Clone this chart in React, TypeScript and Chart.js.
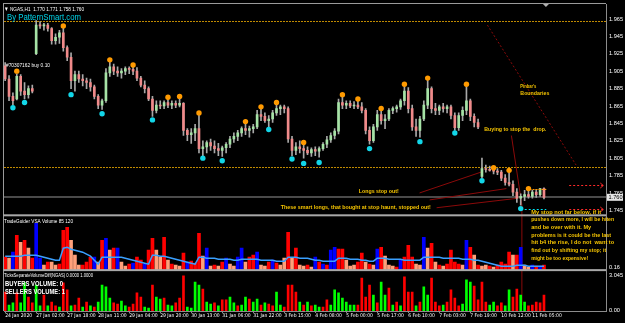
import React, { useEffect, useRef } from 'react';
import { Chart, registerables } from 'chart.js';

Chart.register(...registerables);

const FONT = "'Liberation Sans', Arial, sans-serif";
const NARROW = "'Liberation Sans Narrow', 'DejaVu Sans Condensed', 'Liberation Sans', Arial, sans-serif";

// ---------------- data ----------------
const opens = [
  1.911, 1.896, 1.876, 1.873, 1.899, 1.882, 1.878, 1.885, 1.925, 1.958,
  1.957, 1.958, 1.954, 1.940, 1.944, 1.949, 1.932, 1.921, 1.894, 1.901,
  1.896, 1.894, 1.892, 1.887, 1.876, 1.866, 1.871, 1.903, 1.910, 1.905,
  1.903, 1.905, 1.908, 1.907, 1.905, 1.897, 1.889, 1.885, 1.873, 1.860,
  1.866, 1.865, 1.869, 1.866, 1.868, 1.866, 1.868, 1.837, 1.832, 1.834,
  1.839, 1.816, 1.818, 1.823, 1.819, 1.816, 1.814, 1.817, 1.821, 1.827,
  1.830, 1.834, 1.839, 1.837, 1.839, 1.841, 1.855, 1.853, 1.848, 1.850,
  1.857, 1.862, 1.864, 1.862, 1.827, 1.814, 1.818, 1.816, 1.814, 1.811,
  1.815, 1.813, 1.816, 1.821, 1.826, 1.831, 1.836, 1.869, 1.866, 1.868,
  1.865, 1.866, 1.864, 1.860, 1.837, 1.825, 1.841, 1.855, 1.848, 1.850,
  1.860, 1.862, 1.864, 1.871, 1.882, 1.862, 1.841, 1.837, 1.850, 1.866,
  1.885, 1.862, 1.860, 1.864, 1.862, 1.864, 1.854, 1.840, 1.854, 1.860,
  1.871, 1.853, 1.846, 1.784, 1.793, 1.792, 1.791, 1.790, 1.789, 1.782,
  1.777, 1.775, 1.766, 1.759, 1.761, 1.763, 1.761, 1.766, 1.763, 1.770,
];
const highs = [
  1.915, 1.900, 1.880, 1.902, 1.901, 1.892, 1.888, 1.889, 1.963, 1.962,
  1.960, 1.960, 1.955, 1.948, 1.952, 1.956, 1.934, 1.926, 1.905, 1.905,
  1.901, 1.897, 1.896, 1.889, 1.878, 1.873, 1.908, 1.917, 1.913, 1.910,
  1.908, 1.910, 1.910, 1.911, 1.909, 1.899, 1.894, 1.887, 1.876, 1.871,
  1.871, 1.871, 1.873, 1.871, 1.871, 1.874, 1.869, 1.839, 1.839, 1.844,
  1.855, 1.825, 1.825, 1.827, 1.825, 1.822, 1.819, 1.823, 1.830, 1.834,
  1.837, 1.841, 1.847, 1.842, 1.844, 1.860, 1.863, 1.857, 1.854, 1.860,
  1.868, 1.866, 1.866, 1.864, 1.830, 1.823, 1.825, 1.822, 1.818, 1.817,
  1.818, 1.818, 1.823, 1.830, 1.834, 1.839, 1.873, 1.877, 1.871, 1.871,
  1.870, 1.872, 1.869, 1.862, 1.841, 1.844, 1.860, 1.861, 1.855, 1.862,
  1.864, 1.866, 1.873, 1.888, 1.886, 1.866, 1.850, 1.853, 1.871, 1.895,
  1.887, 1.868, 1.866, 1.868, 1.866, 1.866, 1.857, 1.857, 1.864, 1.888,
  1.873, 1.856, 1.850, 1.805, 1.797, 1.796, 1.793, 1.793, 1.791, 1.786,
  1.789, 1.779, 1.770, 1.764, 1.768, 1.770, 1.768, 1.769, 1.770, 1.771,
];
const lows = [
  1.894, 1.871, 1.866, 1.872, 1.877, 1.873, 1.874, 1.880, 1.924, 1.954,
  1.952, 1.951, 1.936, 1.936, 1.937, 1.928, 1.917, 1.885, 1.882, 1.892,
  1.888, 1.885, 1.882, 1.873, 1.862, 1.861, 1.869, 1.899, 1.901, 1.899,
  1.897, 1.901, 1.902, 1.901, 1.894, 1.887, 1.880, 1.871, 1.853, 1.857,
  1.862, 1.862, 1.863, 1.862, 1.863, 1.864, 1.831, 1.825, 1.822, 1.825,
  1.811, 1.808, 1.811, 1.814, 1.811, 1.808, 1.807, 1.811, 1.817, 1.823,
  1.825, 1.830, 1.832, 1.829, 1.834, 1.839, 1.848, 1.846, 1.841, 1.846,
  1.854, 1.855, 1.857, 1.823, 1.808, 1.809, 1.811, 1.805, 1.809, 1.807,
  1.808, 1.806, 1.814, 1.817, 1.823, 1.827, 1.833, 1.862, 1.862, 1.863,
  1.862, 1.862, 1.857, 1.833, 1.821, 1.823, 1.837, 1.844, 1.839, 1.848,
  1.856, 1.858, 1.861, 1.866, 1.857, 1.837, 1.830, 1.829, 1.848, 1.862,
  1.857, 1.855, 1.855, 1.858, 1.857, 1.850, 1.837, 1.837, 1.848, 1.855,
  1.848, 1.841, 1.839, 1.782, 1.789, 1.790, 1.787, 1.786, 1.779, 1.774,
  1.773, 1.762, 1.754, 1.751, 1.756, 1.759, 1.759, 1.760, 1.761, 1.758,
];
const closes = [
  1.896, 1.876, 1.871, 1.899, 1.882, 1.878, 1.885, 1.882, 1.958, 1.957,
  1.958, 1.954, 1.940, 1.944, 1.949, 1.932, 1.921, 1.894, 1.901, 1.896,
  1.894, 1.892, 1.887, 1.876, 1.866, 1.871, 1.903, 1.910, 1.905, 1.903,
  1.905, 1.908, 1.907, 1.905, 1.897, 1.889, 1.885, 1.873, 1.860, 1.866,
  1.865, 1.869, 1.866, 1.868, 1.866, 1.868, 1.837, 1.832, 1.834, 1.839,
  1.816, 1.818, 1.823, 1.819, 1.816, 1.814, 1.817, 1.821, 1.827, 1.830,
  1.834, 1.839, 1.837, 1.839, 1.841, 1.855, 1.853, 1.848, 1.850, 1.857,
  1.862, 1.864, 1.862, 1.827, 1.814, 1.818, 1.816, 1.814, 1.811, 1.815,
  1.813, 1.816, 1.821, 1.826, 1.831, 1.836, 1.869, 1.866, 1.868, 1.865,
  1.866, 1.864, 1.860, 1.837, 1.825, 1.841, 1.855, 1.848, 1.850, 1.860,
  1.862, 1.864, 1.871, 1.882, 1.862, 1.841, 1.837, 1.850, 1.866, 1.885,
  1.862, 1.860, 1.864, 1.862, 1.864, 1.854, 1.840, 1.854, 1.860, 1.871,
  1.853, 1.846, 1.841, 1.793, 1.792, 1.791, 1.790, 1.789, 1.782, 1.777,
  1.775, 1.766, 1.759, 1.761, 1.763, 1.761, 1.766, 1.763, 1.770, 1.760,
];

const xTickBars = [0, 8, 16, 24, 32, 40, 48, 56, 64, 72, 80, 88, 96, 104, 112, 120, 128, 136];
const xTickLabels = [
  '24 Jan 2020', '27 Jan 02:00', '27 Jan 18:00', '28 Jan 11:00', '29 Jan 04:00', '29 Jan 20:00',
  '30 Jan 13:00', '31 Jan 06:00', '31 Jan 22:00', '3 Feb 15:00', '4 Feb 08:00', '5 Feb 00:00',
  '5 Feb 17:00', '6 Feb 10:00', '7 Feb 03:00', '7 Feb 19:00', '10 Feb 12:00', '11 Feb 05:00',
];
const priceTicks = [1.745, 1.765, 1.785, 1.805, 1.825, 1.845, 1.865, 1.885, 1.905, 1.925, 1.945, 1.965];

const highMarkBars = [3, 15, 27, 33, 42, 45, 50, 62, 66, 70, 77, 87, 91, 97, 103, 109, 119, 126, 130, 135];
const highMarkPrices = [1.905, 1.957, 1.918, 1.912, 1.875, 1.876, 1.857, 1.847, 1.864, 1.869, 1.823, 1.878, 1.873, 1.862, 1.890, 1.897, 1.890, 1.794, 1.791, 1.770];
const lowMarkBars = [2, 5, 17, 25, 38, 51, 56, 68, 74, 77, 81, 94, 107, 116, 123, 133];
const lowMarkPrices = [1.863, 1.869, 1.878, 1.856, 1.849, 1.805, 1.802, 1.838, 1.804, 1.799, 1.800, 1.816, 1.824, 1.834, 1.779, 1.747];

const vsaVolume = [
  26, 24, 36, 70, 56, 60, 44, 24, 94, 24,
  10, 16, 16, 10, 12, 80, 86, 60, 30, 10,
  10, 16, 26, 26, 16, 60, 64, 40, 44, 44,
  16, 8, 12, 14, 26, 20, 12, 40, 64, 40,
  26, 66, 20, 12, 10, 8, 34, 16, 18, 14,
  74, 28, 44, 8, 10, 8, 16, 24, 12, 8,
  26, 44, 16, 26, 30, 36, 10, 8, 16, 20,
  14, 10, 24, 76, 24, 44, 10, 8, 10, 6,
  26, 16, 12, 10, 40, 46, 42, 42, 20, 8,
  10, 16, 34, 16, 12, 10, 42, 46, 28, 10,
  8, 6, 20, 26, 50, 26, 12, 10, 66, 44,
  54, 16, 10, 8, 12, 40, 16, 12, 10, 60,
  46, 30, 10, 8, 10, 8, 6, 10, 16, 12,
  36, 30, 30, 46, 10, 6, 10, 8, 8, 10,
];
const vsaKinds = (
  'rsbrsrsrbb' + 'srssrrrsss' + 'rrrbsrbsrb' + 'ssrbrrbrrs' + 'srsrssrbrr' + 'rsbsrsrbss' + 'bbsrrbssrb' +
  'rssrsrssrs' + 'brbrbbrrss' + 'srrsrsbrss' + 'srbrrrssbs' + 'rsrsrrrrsb' + 'rsrssrsrrr' + 'rsrbssbrbr'
).split('');
const vsaAverage = [
  28, 28, 28, 28, 28, 30, 30, 30, 30, 28,
  26, 24, 22, 20, 20, 44, 46, 42, 40, 38,
  36, 32, 28, 20, 12, 26, 26, 26, 26, 26,
  26, 24, 22, 20, 18, 16, 14, 12, 30, 30,
  28, 28, 26, 24, 22, 20, 18, 16, 14, 12,
  26, 26, 24, 24, 24, 22, 22, 22, 22, 20,
  20, 22, 22, 22, 22, 22, 20, 20, 20, 20,
  18, 18, 18, 26, 26, 26, 24, 24, 24, 22,
  20, 20, 18, 18, 18, 18, 24, 24, 24, 22,
  22, 22, 20, 20, 18, 18, 24, 24, 24, 22,
  22, 22, 22, 20, 20, 20, 20, 20, 26, 26,
  26, 26, 26, 24, 24, 24, 24, 24, 22, 22,
  22, 20, 20, 18, 16, 14, 12, 10, 8, 8,
  8, 8, 10, 10, 10, 8, 8, 8, 8, 8,
];

const tickVolume = [
  1.65, 0.52, 0.70, 1.57, 0.70, 2.44, 1.22, 0.70, 2.26, 0.44,
  1.39, 0.44, 0.78, 0.44, 0.35, 2.44, 1.83, 0.44, 0.52, 1.13,
  0.35, 0.78, 0.44, 0.35, 0.78, 2.26, 2.09, 1.13, 0.70, 0.61,
  0.87, 0.44, 0.35, 0.61, 1.57, 1.22, 0.35, 0.26, 2.26, 1.22,
  1.04, 1.13, 0.52, 0.44, 0.70, 1.13, 3.05, 0.35, 0.26, 2.52,
  2.26, 1.91, 0.78, 0.61, 0.70, 0.44, 0.96, 0.96, 1.22, 0.70,
  0.44, 0.52, 1.22, 1.04, 0.78, 1.04, 0.52, 0.70, 0.61, 0.44,
  1.65, 0.52, 0.35, 2.26, 2.26, 1.65, 0.78, 0.52, 0.78, 0.44,
  0.52, 0.35, 0.35, 0.96, 0.52, 1.83, 1.57, 1.13, 0.78, 0.52,
  0.52, 0.52, 2.87, 1.22, 2.26, 1.39, 0.70, 2.52, 1.39, 2.00,
  0.52, 0.78, 0.44, 2.96, 1.65, 1.65, 0.44, 0.78, 2.09, 1.39,
  2.87, 0.78, 0.44, 0.52, 0.78, 1.83, 1.13, 0.44, 0.61, 2.70,
  2.52, 2.17, 0.96, 2.52, 0.78, 0.52, 0.78, 0.44, 0.70, 0.44,
  1.83, 1.22, 1.91, 1.39, 0.78, 0.44, 0.52, 0.78, 0.70, 1.39,
];
const tickKinds = (
  'rggrggrrgg' + 'rgrrgrrgrr' + 'grgrggggrr' + 'ggrrrrggrg' + 'grggrrrggg' + 'grggrgrrgg' + 'rggrggrgrr' +
  'ggrrrrgrgr' + 'ggrrgggggg' + 'grrrrgrggr' + 'grgrrrgrgg' + 'rrrgrrrrgg' + 'grrrrggrrg' + 'grrggrrrrr'
).split('');

const levelPrices = [1.963, 1.795];

// ---------------- styling / layout ----------------
const PRICE_MAX = 1.9822;
const PRICE_MIN = 1.7393;
const UP = '#a6e3a6';
const DOWN = '#f08a8a';
const WICK = '#a8a8a8';
const NOTE = '#f5c400';
const LEVEL = '#c08a00';
const VSA_COL: Record<string, string> = { r: '#ff0000', s: '#ffa07a', b: '#0000ff' };
const TICK_COL: Record<string, string> = { r: '#ff0000', g: '#00ff00' };

const bars = closes.map((_, i) => i);
const last = closes.length - 1;

function seg(ctx: CanvasRenderingContext2D, x1: number, y1: number, x2: number, y2: number) {
  ctx.beginPath();
  ctx.moveTo(x1, y1);
  ctx.lineTo(x2, y2);
  ctx.stroke();
}
function write(ctx: CanvasRenderingContext2D, s: string, x: number, y: number, size: number, color: string, maxW?: number, bold = false) {
  ctx.font = `${bold ? 'bold ' : ''}${size}px ${FONT}`;
  ctx.fillStyle = color;
  ctx.textAlign = 'left';
  ctx.textBaseline = 'middle';
  if (maxW) ctx.fillText(s, x, y, maxW);
  else ctx.fillText(s, x, y);
}

const overlay = {
  id: 'overlay',
  beforeDatasetsDraw(chart: any) {
    const { ctx, chartArea: a } = chart;
    const xs = chart.scales.x, yp = chart.scales.yPrice, yt = chart.scales.yTick;
    const X = (v: number) => xs.getPixelForValue(v);
    const Y = (v: number) => yp.getPixelForValue(v);
    ctx.save();
    // dotted price levels
    ctx.fillStyle = LEVEL;
    for (const lv of levelPrices) {
      const y = Math.round(Y(lv));
      for (let x = Math.ceil(a.left); x < a.right; x += 3) ctx.fillRect(x, y, 2, 1);
    }
    ctx.strokeStyle = '#4a4a4a';
    ctx.lineWidth = 2;
    const by = Math.round(Y(closes[last]));
    seg(ctx, a.left, by, a.right, by);

    ctx.lineWidth = 1;
    ctx.strokeStyle = '#8b0a0a';
    const fans = [
      [106.9, 1.765, 122.8, 1.789],
      [109.5, 1.757, 129.3, 1.770],
      [111.3, 1.748, 132.4, 1.759],
    ];
    for (const f of fans) seg(ctx, X(f[0]), Y(f[1]), X(f[2]), Y(f[3]));
    ctx.beginPath();
    ctx.moveTo(X(130.6), Y(1.831));
    ctx.lineTo(X(133.3), Y(1.751));
    ctx.lineTo(X(133.3), yt.getPixelForValue(0.5));
    ctx.stroke();
    ctx.setLineDash([2, 2]);
    seg(ctx, X(124.4), Y(1.958), X(147.3), Y(1.797));
    ctx.restore();
  },
  afterDraw(chart: any) {
    const { ctx, chartArea: a } = chart;
    const xs = chart.scales.x, yp = chart.scales.yPrice, yv = chart.scales.yVol, yt = chart.scales.yTick;
    const X = (v: number) => xs.getPixelForValue(v);
    const Y = (v: number) => yp.getPixelForValue(v);
    ctx.save();
    // frame and panel separators
    ctx.fillStyle = '#9a9a9a';
    ctx.fillRect(a.left - 1, a.top - 1, a.right - a.left + 1, 1);
    ctx.fillRect(a.left - 1, a.top - 1, 1, a.bottom - a.top + 1);
    ctx.fillStyle = '#a8a8a8';
    for (const s of [yv, yt]) ctx.fillRect(a.left - 1, s.top - 1, a.right - a.left + 1, 2);

    // shift marker
    ctx.fillStyle = '#b0b0b0';
    const mx = X(139.5);
    ctx.beginPath();
    ctx.moveTo(mx - 3, a.top);
    ctx.lineTo(mx + 3, a.top);
    ctx.lineTo(mx, a.top + 3);
    ctx.closePath();
    ctx.fill();

    // stop / target markers on the right
    ctx.lineWidth = 1;
    ctx.strokeStyle = '#00e0f0';
    ctx.setLineDash([2, 2]);
    let y = Math.round(Y(1.747)) + 0.5;
    seg(ctx, X(133), y, X(139.6), y);
    ctx.strokeStyle = '#ff9900';
    ctx.setLineDash([2, 1]);
    y = Math.round(Y(1.769)) + 0.5;
    seg(ctx, X(134.5), y, X(139.6), y);
    ctx.strokeStyle = '#ff2a2a';
    ctx.setLineDash([2, 2]);
    for (const p of [1.774, 1.747]) {
      const yy = Math.round(Y(p)) + 0.5;
      const x2 = X(154.3);
      seg(ctx, X(145.5), yy, x2, yy);
      ctx.setLineDash([]);
      ctx.beginPath();
      ctx.moveTo(x2 - 3, yy - 2.5);
      ctx.lineTo(x2, yy);
      ctx.lineTo(x2 - 3, yy + 2.5);
      ctx.stroke();
      ctx.setLineDash([2, 2]);
    }
    ctx.setLineDash([]);

    // header
    const hdr = `\u25BC NGAS,H1  ${opens[last].toFixed(3)} ${highs[last].toFixed(3)} ${lows[last].toFixed(3)} ${closes[last].toFixed(3)}`;
    write(ctx, hdr, 4, a.top + 5, 6, '#ffffff', 80);
    write(ctx, 'By PatternSmart.com', 7, a.top + 13, 9.5, '#00d4e8', 74);
    write(ctx, '#70307162 buy 0.10', 6, Y(1.912), 5.5, '#ffffff', 44);

    // annotations
    const notes: [string, number, number, number][] = [
      ["Pinbar's", 132.9, 1.888, 16],
      ['Boundaries', 132.9, 1.879, 29],
      ['Buying to stop the  drop.', 123.6, 1.838, 62],
      ['Longs stop out!', 91.2, 1.767, 40],
      ['These smart longs, that bought at stop haunt, stopped out!', 71.1, 1.749, 150],
    ];
    for (const n of notes) write(ctx, n[0], X(n[1]), Y(n[2]), 6, NOTE, n[3], true);
    const stopNote: [string, number][] = [
      ['My stop not far below, if it', 70],
      ['pushes down more, I will be hiten', 83],
      ['and be over with it. My', 60],
      ['problems is it could be the last', 80],
      ['hit b4 the rise, I do not  want to', 83],
      ['find out by shifting my stop; it', 75],
      ['might be too expensive!', 57],
    ];
    const sx = X(135.7), sy = Y(1.743);
    stopNote.forEach((l, k) => write(ctx, l[0], sx, sy + k * 7.65, 6, NOTE, l[1], true));

    // indicator captions
    write(ctx, 'TradeGuider VSA Volume 85 120', 4, yv.top + 6, 5.5, '#ffffff', 69);
    write(ctx, 'TicksSeparateVolumeDiff(NGAS) 0.0000 1.0000', 4, yt.top + 5, 5.5, '#ffffff', 89);
    write(ctx, 'BUYERS VOLUME: 0', 5, yt.top + 14, 8, '#ffffff', 58, true);
    write(ctx, 'SELLERS VOLUME: 1', 5, yt.top + 21.5, 8, '#ffffff', 60, true);

    // current price tag
    const py = Y(closes[last]);
    ctx.fillStyle = '#e6e6e6';
    ctx.fillRect(a.right + 1, py - 3.5, 16, 7);
    write(ctx, closes[last].toFixed(3), a.right + 2.5, py + 0.3, 5.6, '#000000', 14);
    ctx.restore();
  },
};

export default function App() {
  const ref = useRef<HTMLCanvasElement>(null);
  useEffect(() => {
    const canvas = ref.current;
    if (!canvas) return;
    const yCommon = {
      type: 'linear',
      position: 'right',
      stack: 'panes',
      grid: { display: false, drawTicks: false, tickLength: 0 },
      border: { display: true, color: '#8c8c8c' },
      afterFit: (s: any) => { s.width = 19; s.paddingTop = 0; s.paddingBottom = 0; },
    };
    const chart = new Chart(canvas, {
      type: 'bar',
      data: {
        datasets: [
          {
            type: 'scatter', label: 'swing highs', yAxisID: 'yPrice',
            data: highMarkBars.map((b, k) => ({ x: b, y: highMarkPrices[k] })),
            pointRadius: 2.7, pointBorderWidth: 0, pointBackgroundColor: '#ff9a00', backgroundColor: '#ff9a00',
          },
          {
            type: 'scatter', label: 'swing lows', yAxisID: 'yPrice',
            data: lowMarkBars.map((b, k) => ({ x: b, y: lowMarkPrices[k] })),
            pointRadius: 2.7, pointBorderWidth: 0, pointBackgroundColor: '#12d6e8', backgroundColor: '#12d6e8',
          },
          {
            type: 'bar', label: 'body', yAxisID: 'yPrice', grouped: false, barThickness: 2, minBarLength: 1,
            data: bars.map((i) => ({ x: i, y: [opens[i], closes[i]] })),
            backgroundColor: bars.map((i) => (closes[i] >= opens[i] ? UP : DOWN)),
          },
          {
            type: 'bar', label: 'wick', yAxisID: 'yPrice', grouped: false, barThickness: 1,
            data: bars.map((i) => ({ x: i, y: [lows[i], highs[i]] })),
            backgroundColor: WICK,
          },
          {
            type: 'line', label: 'vsa average', yAxisID: 'yVol',
            data: bars.map((i) => ({ x: i, y: vsaAverage[i] })),
            borderColor: '#3aa0ff', borderWidth: 1.5, pointRadius: 0, tension: 0, fill: false,
          },
          {
            type: 'bar', label: 'vsa volume', yAxisID: 'yVol', grouped: false, barThickness: 3,
            data: bars.map((i) => ({ x: i, y: vsaVolume[i] })),
            backgroundColor: bars.map((i) => VSA_COL[vsaKinds[i]]),
          },
          {
            type: 'bar', label: 'tick volume', yAxisID: 'yTick', grouped: false, barThickness: 2,
            data: bars.map((i) => ({ x: i, y: tickVolume[i] })),
            backgroundColor: bars.map((i) => TICK_COL[tickKinds[i]]),
          },
        ],
      } as any,
      options: {
        responsive: false,
        maintainAspectRatio: false,
        devicePixelRatio: 1,
        animation: false,
        events: [],
        layout: { padding: { left: 3, top: 3, right: 0, bottom: 0 } },
        font: { family: FONT },
        plugins: { legend: { display: false }, tooltip: { enabled: false } },
        scales: {
          x: {
            type: 'linear', min: -0.3, max: 155, offset: false,
            afterBuildTicks: (s: any) => { s.ticks = xTickBars.map((v) => ({ value: v })); },
            ticks: {
              autoSkip: false, maxRotation: 0, minRotation: 0, align: 'start', padding: 0,
              color: '#ffffff', font: { size: 5, family: NARROW },
              callback: (v: any) => xTickLabels[xTickBars.indexOf(Number(v))] ?? '',
            },
            grid: { display: true, drawOnChartArea: false, drawTicks: true, tickLength: 2, color: '#8c8c8c', offset: false },
            border: { display: true, color: '#8c8c8c' },
            afterFit: (s: any) => { s.height = 12; s.paddingLeft = 0; s.paddingRight = 0; },
          },
          yPrice: {
            ...yCommon, stackWeight: 212, min: PRICE_MIN, max: PRICE_MAX,
            afterBuildTicks: (s: any) => { s.ticks = priceTicks.map((v) => ({ value: v })); },
            ticks: { color: '#ffffff', padding: 3, font: { size: 5.6, family: FONT }, callback: (v: any) => Number(v).toFixed(3) },
          },
          yVol: {
            ...yCommon, stackWeight: 55, min: 0, max: 110,
            afterBuildTicks: (s: any) => { s.ticks = [{ value: 6 }]; },
            ticks: { color: '#ffffff', padding: 3, font: { size: 5.6, family: FONT }, callback: () => '0.16' },
          },
          yTick: {
            ...yCommon, stackWeight: 41, min: 0, max: 3.55,
            afterBuildTicks: (s: any) => { s.ticks = [{ value: 0.05 }, { value: 3.045 }]; },
            ticks: { color: '#ffffff', padding: 3, font: { size: 5.6, family: FONT }, callback: (v: any) => (Number(v) > 1 ? '3.045' : '0.00') },
          },
        },
      } as any,
      plugins: [overlay],
    });
    return () => chart.destroy();
  }, []);

  return (
    <div style={{ position: 'fixed', left: 0, top: 0, width: 625, height: 323, background: '#000000' }}>
      <canvas ref={ref} width={625} height={323} style={{ display: 'block', width: 625, height: 323 }} />
    </div>
  );
}
